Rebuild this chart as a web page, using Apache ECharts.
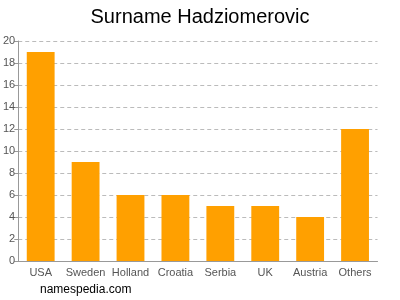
<!DOCTYPE html>
<html><head><meta charset="utf-8">
<script src="https://cdn.jsdelivr.net/npm/echarts@6/dist/echarts.min.js"></script>
<style>html,body{margin:0;padding:0;background:#fff}#c{width:400px;height:300px}</style>
</head><body><div id="c"></div>
<script>
var categories = ["USA","Sweden","Holland","Croatia","Serbia","UK","Austria","Others"];
var values = [19,9,6,6,5,5,4,12];
var chart = echarts.init(document.getElementById('c'), null, {renderer:'canvas'});
chart.setOption({
  animation:false,
  title:{text:'Surname Hadziomerovic', left:'center', top:2, textStyle:{fontFamily:'Liberation Sans', fontSize:20, fontWeight:'normal', color:'#000'}},
  graphic:[{type:'text', left:40, top:284, style:{text:'namespedia.com', font:'12px "Liberation Sans"', fill:'#000'}}],
  grid:{left:17.5, right:22.5, top:41, bottom:39},
  xAxis:{type:'category', data:categories,
    axisLine:{lineStyle:{color:'#999'}},
    axisTick:{alignWithLabel:true, length:4, lineStyle:{color:'#999'}},
    axisLabel:{interval:0, color:'#555', fontFamily:'Liberation Sans', fontSize:11, margin:6}},
  yAxis:{type:'value', min:0, max:20, interval:2,
    axisLine:{show:true, lineStyle:{color:'#999'}},
    axisTick:{show:true, length:4, lineStyle:{color:'#999'}},
    axisLabel:{color:'#555', fontFamily:'Liberation Sans', fontSize:11, margin:3},
    splitLine:{lineStyle:{color:'#bbb', type:[4,3]}}},
  series:[{type:'bar', data:values, barWidth:'62%', itemStyle:{color:'#ffa000'}}]
});
</script></body></html>
